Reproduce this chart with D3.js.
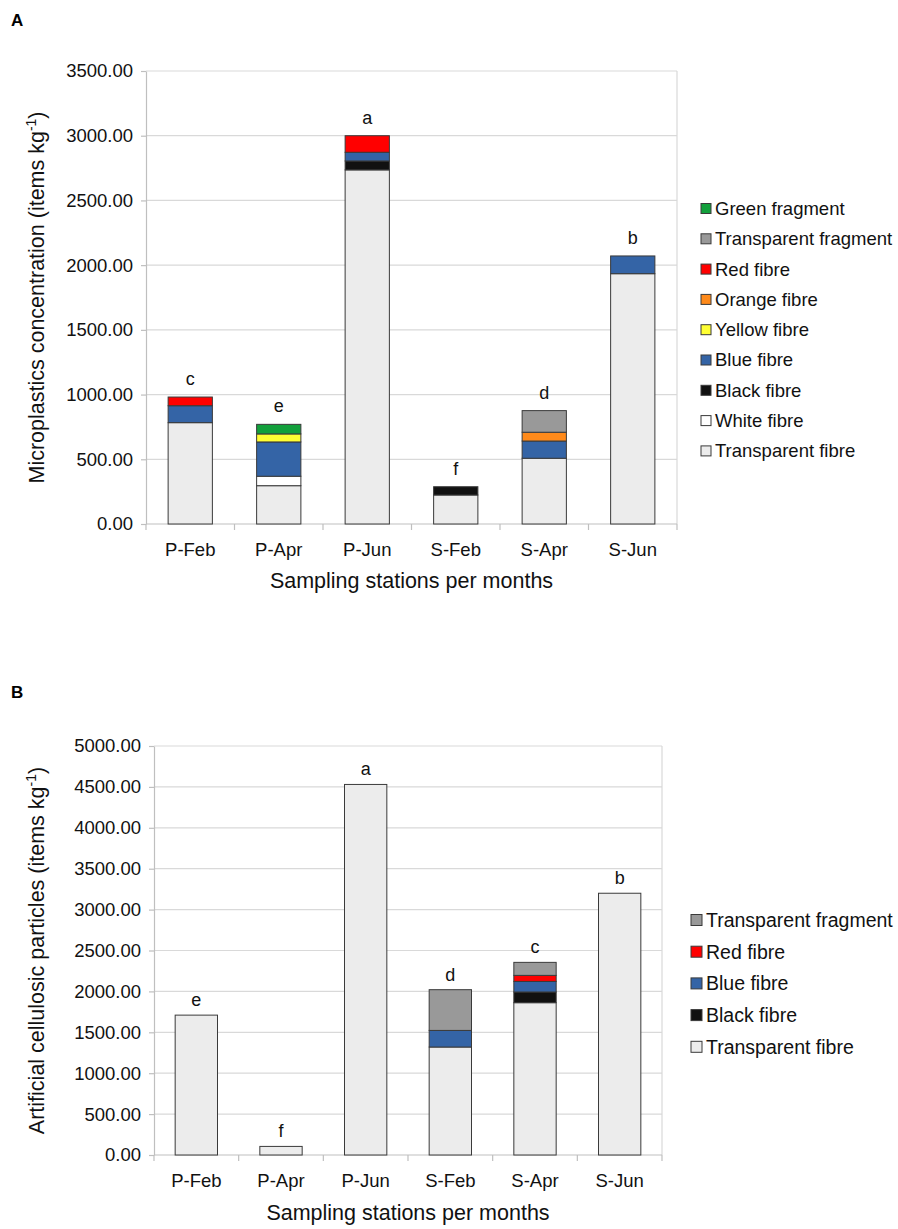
<!DOCTYPE html>
<html>
<head>
<meta charset="utf-8">
<script src="https://cdn.jsdelivr.net/npm/d3@7"></script>
<style>
body { margin: 0; background: #fff; }
svg { display: block; font-family: "Liberation Sans", Arial, sans-serif; }
</style>
</head>
<body>
<div id="chart"></div>
<script>
const width = 898;
const height = 1229;

const stations = ["P-Feb", "P-Apr", "P-Jun", "S-Feb", "S-Apr", "S-Jun"];

// Panel A - microplastics, stack order bottom -> top
const typesA = ["Transparent fibre", "White fibre", "Black fibre", "Blue fibre", "Yellow fibre",
    "Orange fibre", "Red fibre", "Transparent fragment", "Green fragment"];
const transparentFibreA = [783, 296, 2736, 224, 508, 1934];
const whiteFibreA = [0, 73, 0, 0, 0, 0];
const blackFibreA = [0, 0, 69, 64, 0, 0];
const blueFibreA = [131, 265, 67, 0, 133, 137];
const yellowFibreA = [0, 62, 0, 0, 0, 0];
const orangeFibreA = [0, 0, 0, 0, 68, 0];
const redFibreA = [67, 0, 128, 0, 0, 0];
const transparentFragmentA = [0, 0, 0, 0, 167, 0];
const greenFragmentA = [0, 74, 0, 0, 0, 0];
const lettersA = ["c", "e", "a", "f", "d", "b"];
const ticksA = [0, 500, 1000, 1500, 2000, 2500, 3000, 3500];

// Panel B - artificial cellulosic particles
const typesB = ["Transparent fibre", "Black fibre", "Blue fibre", "Red fibre", "Transparent fragment"];
const transparentFibreB = [1710, 105, 4530, 1320, 1862, 3200];
const blackFibreB = [0, 0, 0, 0, 131, 0];
const blueFibreB = [0, 0, 0, 203, 129, 0];
const redFibreB = [0, 0, 0, 0, 74, 0];
const transparentFragmentB = [0, 0, 0, 498, 159, 0];
const lettersB = ["e", "f", "a", "d", "c", "b"];
const ticksB = [0, 500, 1000, 1500, 2000, 2500, 3000, 3500, 4000, 4500, 5000];

const color = d3.scaleOrdinal()
    .domain(["Transparent fibre", "White fibre", "Black fibre", "Blue fibre", "Yellow fibre",
        "Orange fibre", "Red fibre", "Transparent fragment", "Green fragment"])
    .range(["#ececec", "#ffffff", "#111111", "#3464a6", "#ffff33", "#ff8a1a", "#ff0000", "#999999", "#12a03c"]);

const seriesA = {
    "Transparent fibre": transparentFibreA, "White fibre": whiteFibreA, "Black fibre": blackFibreA,
    "Blue fibre": blueFibreA, "Yellow fibre": yellowFibreA, "Orange fibre": orangeFibreA,
    "Red fibre": redFibreA, "Transparent fragment": transparentFragmentA, "Green fragment": greenFragmentA
};
const seriesB = {
    "Transparent fibre": transparentFibreB, "Black fibre": blackFibreB, "Blue fibre": blueFibreB,
    "Red fibre": redFibreB, "Transparent fragment": transparentFragmentB
};

const toRows = (series, keys) => stations.map((s, i) => {
    const row = { station: s };
    keys.forEach(k => row[k] = series[k][i]);
    return row;
});

const svg = d3.select("#chart")
    .append("svg")
    .attr("width", width)
    .attr("height", height)
    .attr("viewBox", [0, 0, width, height]);

const drawPanel = (cfg) => {
    const g = svg.append("g");

    const x = d3.scaleBand()
        .domain(stations)
        .range([cfg.left, cfg.right])
        .paddingInner(0.5)
        .paddingOuter(0.25);

    const y = d3.scaleLinear()
        .domain([0, cfg.max])
        .range([cfg.bottom, cfg.top]);

    // gridlines
    g.append("g")
        .selectAll("line")
        .data(cfg.ticks.filter(d => d > 0))
        .join("line")
        .attr("x1", cfg.left)
        .attr("x2", cfg.right)
        .attr("y1", d => y(d))
        .attr("y2", d => y(d))
        .attr("stroke", "#d9d9d9")
        .attr("stroke-width", 1.2);

    g.append("line")
        .attr("x1", cfg.right).attr("x2", cfg.right)
        .attr("y1", y(cfg.max)).attr("y2", y(0))
        .attr("stroke", "#d9d9d9")
        .attr("stroke-width", 1.2);

    // y axis
    g.append("g")
        .attr("transform", `translate(${cfg.left},0)`)
        .call(d3.axisLeft(y).tickValues(cfg.ticks).tickSize(5).tickSizeOuter(0).tickPadding(8)
            .tickFormat(d3.format(".2f")))
        .call(a => a.selectAll("path, line").attr("stroke", "#bfbfbf").attr("stroke-width", 1.2))
        .call(a => a.selectAll("text").attr("fill", "#111").attr("font-size", cfg.tickFont)
            .attr("font-family", null));

    // x axis: labels at centre, ticks between categories
    g.append("g")
        .attr("transform", `translate(0,${cfg.bottom})`)
        .call(d3.axisBottom(x).tickSize(0).tickPadding(cfg.xLabelPad))
        .call(a => a.select(".domain").remove())
        .call(a => a.selectAll("text").attr("fill", "#111").attr("font-size", cfg.tickFont)
            .attr("font-family", null));

    g.append("line")
        .attr("x1", cfg.left).attr("x2", cfg.right)
        .attr("y1", cfg.bottom).attr("y2", cfg.bottom)
        .attr("stroke", "#bfbfbf").attr("stroke-width", 1.2);

    g.append("g")
        .selectAll("line")
        .data(d3.range(stations.length + 1))
        .join("line")
        .attr("x1", i => cfg.left + i * x.step())
        .attr("x2", i => cfg.left + i * x.step())
        .attr("y1", cfg.bottom)
        .attr("y2", cfg.bottom + 6)
        .attr("stroke", "#bfbfbf").attr("stroke-width", 1.2);

    // stacked bars
    const rows = toRows(cfg.series, cfg.types);
    const stacked = d3.stack().keys(cfg.types)(rows);

    g.append("g")
        .selectAll("g")
        .data(stacked)
        .join("g")
        .attr("fill", d => color(d.key))
        .selectAll("rect")
        .data(d => d.filter(p => p[1] - p[0] > 0))
        .join("rect")
        .attr("x", d => x(d.data.station))
        .attr("y", d => y(d[1]))
        .attr("width", x.bandwidth())
        .attr("height", d => y(d[0]) - y(d[1]))
        .attr("stroke", "#3a3a3a")
        .attr("stroke-width", 1);

    // significance letters
    const totals = rows.map(r => d3.sum(cfg.types, k => r[k]));
    g.append("g")
        .attr("text-anchor", "middle")
        .attr("font-size", cfg.letterFont)
        .attr("fill", "#111")
        .selectAll("text")
        .data(stations)
        .join("text")
        .attr("x", d => x(d) + x.bandwidth() / 2)
        .attr("y", (d, i) => y(totals[i]) - cfg.letterGap)
        .text((d, i) => cfg.letters[i]);

    // axis titles
    g.append("text")
        .attr("x", (cfg.left + cfg.right) / 2)
        .attr("y", cfg.xTitleY)
        .attr("text-anchor", "middle")
        .attr("font-size", cfg.titleFont)
        .attr("fill", "#111")
        .text("Sampling stations per months");

    const yt = g.append("text")
        .attr("transform", `translate(${cfg.yTitleX},${(cfg.top + cfg.bottom) / 2}) rotate(-90)`)
        .attr("text-anchor", "middle")
        .attr("font-size", cfg.titleFont)
        .attr("fill", "#111");
    yt.append("tspan").text(cfg.yTitle + " (items kg");
    yt.append("tspan").attr("baseline-shift", "super").attr("font-size", "65%").text("-1");
    yt.append("tspan").text(")");

    // legend (reverse of stack order)
    const legend = g.append("g")
        .attr("transform", `translate(${cfg.legendX},${cfg.legendY})`)
        .selectAll("g")
        .data(cfg.types.slice().reverse())
        .join("g")
        .attr("transform", (d, i) => `translate(0,${i * cfg.legendStep})`);

    legend.append("rect")
        .attr("x", 0)
        .attr("y", -cfg.sq / 2)
        .attr("width", cfg.sq)
        .attr("height", cfg.sq)
        .attr("fill", d => color(d))
        .attr("stroke", "#3a3a3a")
        .attr("stroke-width", 1);

    legend.append("text")
        .attr("x", cfg.sq + 4)
        .attr("dy", "0.35em")
        .attr("font-size", cfg.legendFont)
        .attr("fill", "#111")
        .text(d => d);

    // panel letter
    g.append("text")
        .attr("x", 11)
        .attr("y", cfg.panelY)
        .attr("font-size", 17)
        .attr("font-weight", "bold")
        .text(cfg.panel);
};

drawPanel({
    panel: "A", panelY: 26,
    left: 146, right: 677, top: 71, bottom: 524, max: 3500, ticks: ticksA,
    types: typesA, series: seriesA, letters: lettersA,
    tickFont: 18.5, letterFont: 18, letterGap: 12, titleFont: 21.5, xLabelPad: 19,
    xTitleY: 588, yTitleX: 44, yTitle: "Microplastics concentration",
    legendX: 701, legendY: 208.5, legendStep: 30.3, sq: 10, legendFont: 18.5
});

drawPanel({
    panel: "B", panelY: 698,
    left: 154, right: 662, top: 746, bottom: 1155, max: 5000, ticks: ticksB,
    types: typesB, series: seriesB, letters: lettersB,
    tickFont: 18.5, letterFont: 18, letterGap: 9, titleFont: 21.5, xLabelPad: 19,
    xTitleY: 1220, yTitleX: 44, yTitle: "Artificial cellulosic particles",
    legendX: 691, legendY: 920, legendStep: 31.7, sq: 11, legendFont: 19.5
});
</script>
</body>
</html>
